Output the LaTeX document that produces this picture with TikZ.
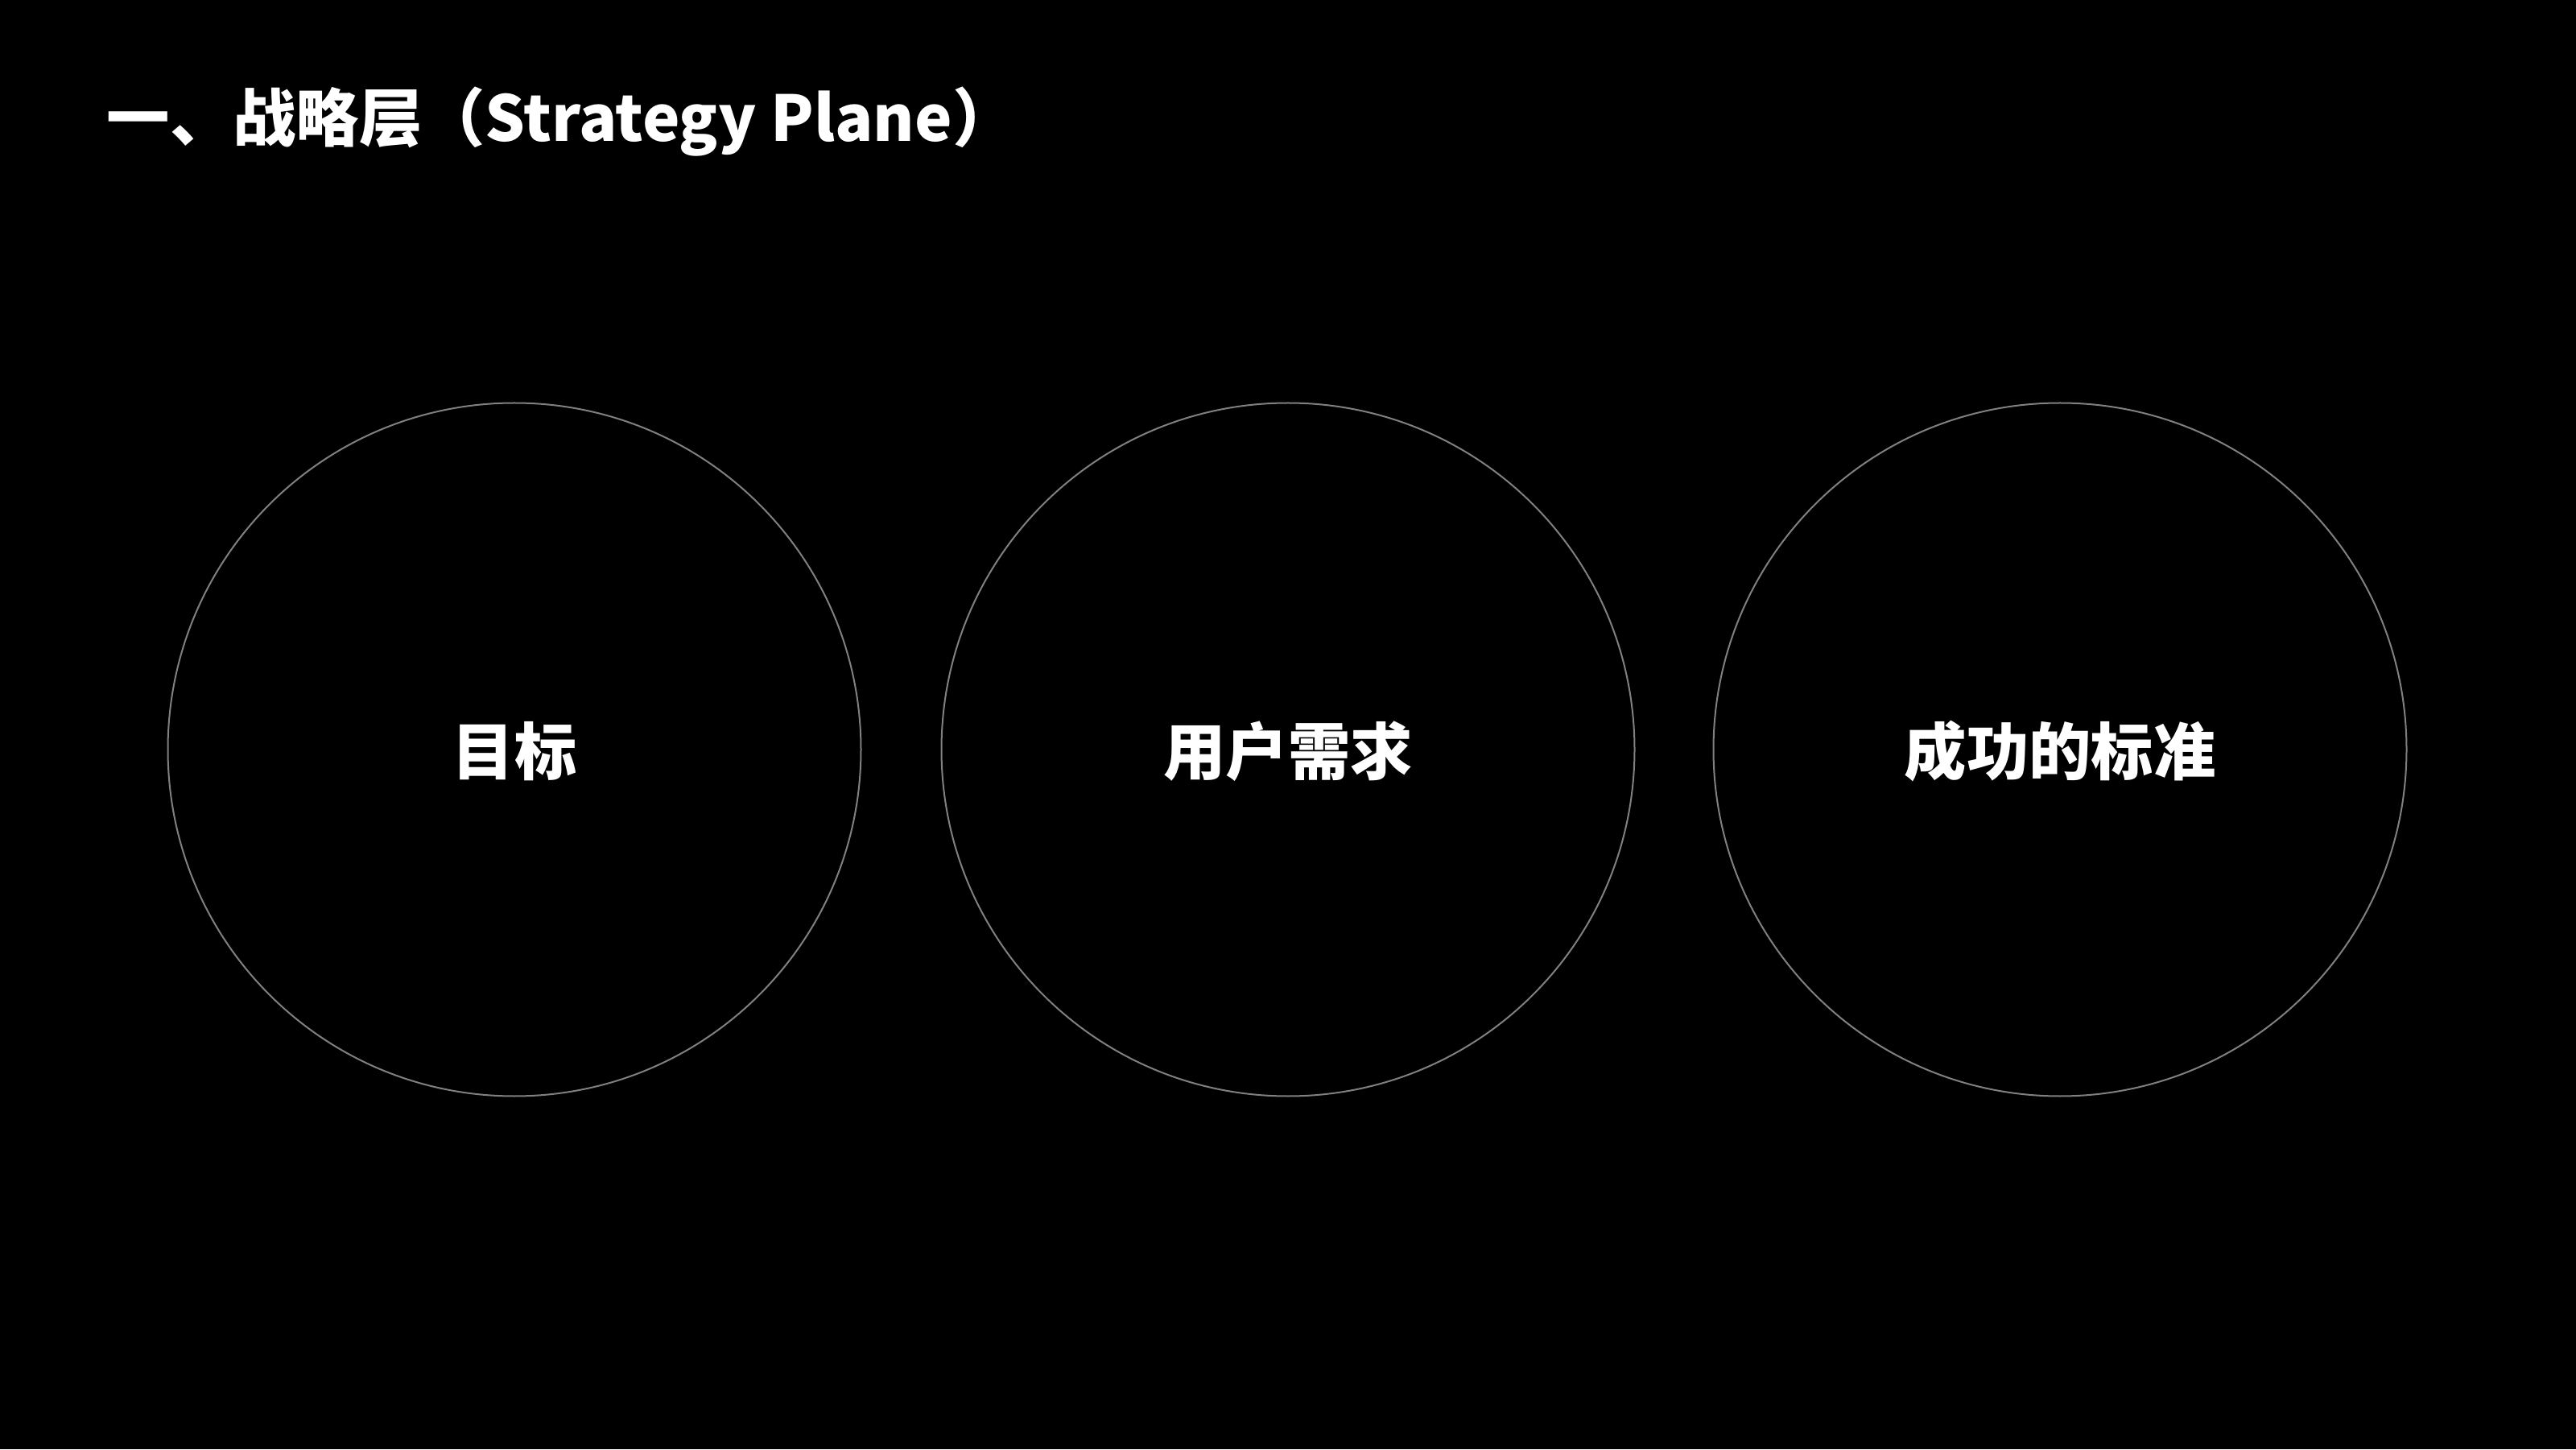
\documentclass[tikz,border=0pt]{standalone}
\usepackage{fontspec}
\setmainfont{Noto Sans CJK SC}
\begin{document}
\begin{tikzpicture}[
  ring/.style={draw=ringgray, line width=0.02cm, circle, minimum size=8.61cm, inner sep=0pt},
  lbl/.style={text=white, font=\fontsize{22pt}{26pt}\selectfont\bfseries},
]
\definecolor{ringgray}{HTML}{808080}
\fill[black] (0,0) rectangle (32,18);
\useasboundingbox (0,0) rectangle (32,18);
\node[anchor=west, inner sep=0pt, text=white, font=\fontsize{22.3pt}{26pt}\selectfont\bfseries] (title) at (1.32,16.49) {一、战略层（Strategy Plane）};
\node[ring] (c1) at (6.39,8.69) {};
\node[ring] (c2) at (16.0,8.69) {};
\node[ring] (c3) at (25.59,8.69) {};
\node[lbl] (l1) at ([yshift=-0.02cm]c1.center) {目标};
\node[lbl] (l2) at ([yshift=-0.02cm]c2.center) {用户需求};
\node[lbl] (l3) at ([yshift=-0.02cm]c3.center) {成功的标准};
\end{tikzpicture}
\end{document}
